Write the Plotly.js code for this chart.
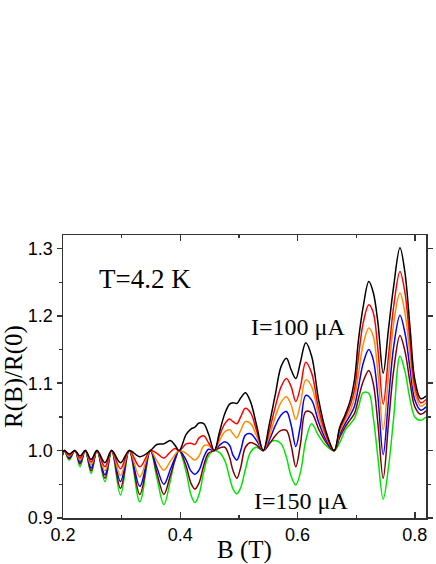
<!DOCTYPE html>
<html>
<head>
<meta charset="utf-8">
<script src="https://cdn.plot.ly/plotly-3.0.1.min.js"></script>
<style>
  body { margin: 0; background: #fff; }
  #chart { width: 436px; height: 564px; }
</style>
</head>
<body>
<div id="chart"></div>
<script>
// magnetic field B (T), shared by all curves
var fieldB = [0.200, 0.2025, 0.2105, 0.2205, 0.229, 0.238, 0.248, 0.258, 0.2715, 0.283,
  0.298, 0.313, 0.331, 0.349, 0.360, 0.372, 0.383, 0.391, 0.398, 0.410,
  0.418, 0.425, 0.432, 0.440, 0.448, 0.458, 0.467, 0.476, 0.484, 0.490,
  0.4965, 0.503, 0.511, 0.520, 0.530, 0.5415, 0.552, 0.562, 0.572, 0.581,
  0.589, 0.597, 0.605, 0.614, 0.624, 0.636, 0.648, 0.6625, 0.672, 0.681,
  0.690, 0.697, 0.704, 0.712, 0.7215, 0.729, 0.737, 0.746, 0.755, 0.764,
  0.7746, 0.783, 0.792, 0.800, 0.810, 0.819];

// R(B)/R(0), one array per current, I=100 uA (black) ... I=150 uA (green)
var rBlack = [0.998, 1.0, 0.995, 1.0, 0.992, 1.0, 0.987, 1.0, 0.982, 1.0,
  0.982, 1.0, 0.991, 1.0, 1.009, 1.010, 1.015, 1.008, 1.0, 1.024,
  1.032, 1.035, 1.041, 1.040, 1.025, 1.0, 1.028, 1.055, 1.069, 1.071,
  1.070, 1.078, 1.086, 1.072, 1.038, 1.0, 1.040, 1.083, 1.125, 1.137,
  1.120, 1.107, 1.132, 1.160, 1.140, 1.075, 1.030, 1.0, 1.035, 1.053,
  1.075, 1.105, 1.165, 1.214, 1.251, 1.235, 1.190, 1.115, 1.180, 1.245,
  1.301, 1.265, 1.180, 1.105, 1.077, 1.081];
var rRed = [0.997, 1.0, 0.993, 1.0, 0.989, 1.0, 0.983, 1.0, 0.976, 1.0,
  0.973, 1.0, 0.976, 1.0, 0.996, 0.989, 0.998, 1.003, 1.0, 1.010,
  1.011, 1.009, 1.019, 1.022, 1.012, 1.0, 1.022, 1.040, 1.047, 1.043,
  1.040, 1.050, 1.063, 1.056, 1.030, 1.0, 1.030, 1.065, 1.095, 1.107,
  1.095, 1.073, 1.095, 1.131, 1.115, 1.062, 1.025, 1.0, 1.032, 1.049,
  1.068, 1.090, 1.140, 1.190, 1.2165, 1.205, 1.150, 1.069, 1.140, 1.215,
  1.266, 1.235, 1.160, 1.095, 1.071, 1.076];
var rOrange = [0.996, 1.0, 0.9915, 1.0, 0.986, 1.0, 0.979, 1.0, 0.970, 1.0,
  0.963, 1.0, 0.961, 1.0, 0.985, 0.971, 0.984, 0.994, 1.0, 0.996,
  0.990, 0.986, 0.992, 1.007, 1.008, 1.0, 1.015, 1.028, 1.031, 1.025,
  1.019, 1.030, 1.043, 1.040, 1.022, 1.0, 1.022, 1.050, 1.072, 1.080,
  1.068, 1.046, 1.070, 1.105, 1.095, 1.052, 1.021, 1.0, 1.028, 1.045,
  1.060, 1.078, 1.115, 1.158, 1.182, 1.170, 1.115, 1.031, 1.110, 1.190,
  1.234, 1.205, 1.140, 1.085, 1.066, 1.071];
var rBlue = [0.995, 1.0, 0.990, 1.0, 0.983, 1.0, 0.974, 1.0, 0.964, 1.0,
  0.954, 1.0, 0.947, 1.0, 0.975, 0.950, 0.972, 0.989, 1.0, 0.986,
  0.970, 0.965, 0.971, 0.990, 1.002, 1.0, 1.008, 1.013, 1.008, 0.993,
  0.986, 1.000, 1.023, 1.025, 1.015, 1.0, 1.016, 1.037, 1.053, 1.058,
  1.038, 1.006, 1.038, 1.082, 1.075, 1.042, 1.017, 1.0, 1.024, 1.040,
  1.053, 1.066, 1.095, 1.130, 1.150, 1.135, 1.080, 0.994, 1.075, 1.155,
  1.201, 1.175, 1.120, 1.075, 1.060, 1.065];
var rMaroon = [0.994, 1.0, 0.988, 1.0, 0.980, 1.0, 0.970, 1.0, 0.959, 1.0,
  0.944, 1.0, 0.935, 1.0, 0.967, 0.935, 0.963, 0.986, 1.0, 0.977,
  0.952, 0.943, 0.952, 0.978, 0.996, 1.0, 1.004, 1.005, 0.990, 0.970,
  0.959, 0.975, 1.005, 1.012, 1.008, 1.0, 1.010, 1.022, 1.030, 1.030,
  1.008, 0.976, 1.010, 1.058, 1.056, 1.032, 1.013, 1.0, 1.020, 1.035,
  1.046, 1.055, 1.078, 1.103, 1.119, 1.100, 1.040, 0.959, 1.040, 1.120,
  1.171, 1.148, 1.100, 1.065, 1.054, 1.059];
var rGreen = [0.993, 1.0, 0.986, 1.0, 0.976, 1.0, 0.966, 1.0, 0.954, 1.0,
  0.934, 1.0, 0.924, 1.0, 0.960, 0.920, 0.955, 0.986, 1.0, 0.968,
  0.935, 0.923, 0.935, 0.968, 0.992, 1.0, 0.997, 0.985, 0.960, 0.943,
  0.936, 0.945, 0.972, 0.998, 1.005, 1.0, 1.012, 1.015, 1.010, 0.990,
  0.962, 0.949, 0.968, 1.015, 1.040, 1.022, 1.008, 1.0, 1.012, 1.030,
  1.040, 1.048, 1.065, 1.086, 1.085, 1.050, 0.990, 0.928, 0.975, 1.050,
  1.140, 1.118, 1.075, 1.050, 1.045, 1.050];

var xTicks = [0.2, 0.4, 0.6, 0.8];
var xTickText = ['0.2', '0.4', '0.6', '0.8'];
var yTicks = [0.9, 1.0, 1.1, 1.2, 1.3];
var yTickText = ['0.9', '1.0', '1.1', '1.2', '1.3'];

function curve(y, color) {
  return {
    type: 'scatter',
    mode: 'lines',
    x: fieldB,
    y: y,
    line: { color: color, width: 1.5, shape: 'spline' },
    hoverinfo: 'skip'
  };
}

// green drawn first so the black curve lies on top
var data = [
  curve(rGreen, '#00e600'),
  curve(rMaroon, '#800000'),
  curve(rBlue, '#0000ff'),
  curve(rOrange, '#ff8c00'),
  curve(rRed, '#ff0000'),
  curve(rBlack, '#000000')
];

var serif = 'Liberation Serif, Times New Roman, serif';
var sans = 'Liberation Sans, Arial, sans-serif';

var layout = {
  width: 436,
  height: 564,
  margin: { l: 63, r: 10, t: 235, b: 46 },
  paper_bgcolor: '#fff',
  plot_bgcolor: '#fff',
  showlegend: false,
  xaxis: {
    range: [0.2, 0.819],
    tickvals: xTicks,
    ticktext: xTickText,
    ticks: 'inside',
    ticklen: 6,
    tickwidth: 1.5,
    tickcolor: '#333',
    minor: { tickvals: [0.3, 0.5, 0.7], ticks: 'inside', ticklen: 3, tickwidth: 1.2, tickcolor: '#333' },
    showline: true,
    linecolor: '#333',
    linewidth: 1.5,
    mirror: 'allticks',
    showgrid: false,
    zeroline: false,
    tickfont: { family: sans, size: 18, color: '#000' },
    title: { text: 'B (T)', font: { family: serif, size: 25, color: '#000' }, standoff: 2 }
  },
  yaxis: {
    range: [0.9, 1.32],
    tickvals: yTicks,
    ticktext: yTickText,
    ticks: 'outside',
    ticklen: 5,
    tickwidth: 1.5,
    tickcolor: '#333',
    minor: { tickvals: [0.95, 1.05, 1.15, 1.25], ticks: 'outside', ticklen: 3, tickwidth: 1.2, tickcolor: '#333' },
    showline: true,
    linecolor: '#333',
    linewidth: 1.5,
    mirror: 'allticks',
    showgrid: false,
    zeroline: false,
    tickfont: { family: sans, size: 18, color: '#000' },
    title: { text: 'R(B)/R(0)', font: { family: serif, size: 25, color: '#000' }, standoff: 6 }
  },
  annotations: [
    { text: 'T=4.2 K', x: 0.3398, y: 1.255, xref: 'x', yref: 'y', showarrow: false,
      font: { family: serif, size: 27, color: '#000' } },
    { text: 'I=100 μA', x: 0.6007, y: 1.184, xref: 'x', yref: 'y', showarrow: false,
      font: { family: serif, size: 24, color: '#000' } },
    { text: 'I=150 μA', x: 0.6058, y: 0.925, xref: 'x', yref: 'y', showarrow: false,
      font: { family: serif, size: 24, color: '#000' } }
  ]
};

Plotly.newPlot('chart', data, layout, { staticPlot: true, displayModeBar: false });
</script>
</body>
</html>
